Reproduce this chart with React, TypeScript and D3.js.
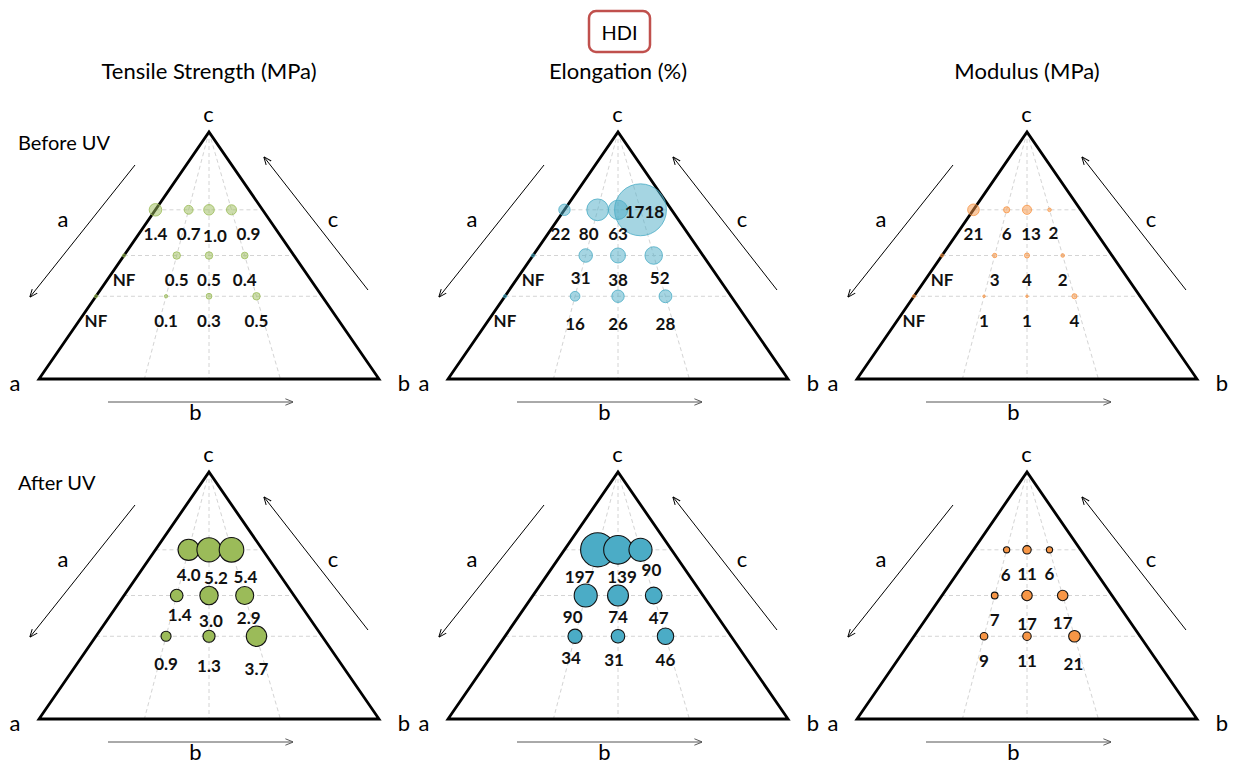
import { useEffect, useRef } from 'react';
import * as d3 from 'd3';

type Cell = number | 'NF' | null;

// composition grid: c level of each row, b/(a+b) of each column
const rowC = [0.685, 0.5, 0.335];
const colB = [0, 0.31, 0.5, 0.71];

const properties = ['Tensile Strength (MPa)', 'Elongation (%)', 'Modulus (MPa)'];
const conditions = ['Before UV', 'After UV'];

const tensileBefore: Cell[][] = [
  [1.4, 0.7, 1.0, 0.9],
  ['NF', 0.5, 0.5, 0.4],
  ['NF', 0.1, 0.3, 0.5],
];
const tensileAfter: Cell[][] = [
  [null, 4.0, 5.2, 5.4],
  [null, 1.4, 3.0, 2.9],
  [null, 0.9, 1.3, 3.7],
];
const elongBefore: Cell[][] = [
  [22, 80, 63, 1718],
  ['NF', 31, 38, 52],
  ['NF', 16, 26, 28],
];
const elongAfter: Cell[][] = [
  [null, 197, 139, 90],
  [null, 90, 74, 47],
  [null, 34, 31, 46],
];
const modulusBefore: Cell[][] = [
  [21, 6, 13, 2],
  ['NF', 3, 4, 2],
  ['NF', 1, 1, 4],
];
const modulusAfter: Cell[][] = [
  [null, 6, 11, 6],
  [null, 7, 17, 17],
  [null, 9, 11, 21],
];

const colors = ['#9bbb59', '#4bacc6', '#f79646'];

// hand placement of value labels that would collide: key panel-cond-row-col -> [dx, dy]
const labelNudge: Record<string, [number, number]> = {
  '0-0-0-2': [6, 2],
  '0-0-0-3': [17, 0],
  '1-0-0-0': [-4, 0],
  '1-0-0-1': [-9, 0],
  '1-0-0-3': [4, 0],
  '1-0-1-1': [-5, -2],
  '1-0-1-3': [6, -2],
  '1-0-2-1': [0, 3],
  '1-0-2-2': [0, 3],
  '1-0-2-3': [0, 3],
  '2-0-0-2': [4, 0],
  '2-0-0-3': [4, -1],
  '0-1-0-1': [0, 1],
  '0-1-0-2': [7, 4],
  '0-1-0-3': [14, 3],
  '0-1-1-1': [3, -5],
  '0-1-1-2': [2, 1],
  '0-1-1-3': [4, -2],
  '0-1-2-1': [0, 3],
  '0-1-2-2': [0, 5],
  '0-1-2-3': [0, 8],
  '1-1-0-1': [-18, 3],
  '1-1-0-2': [4, 3],
  '1-1-0-3': [11, -4],
  '1-1-1-1': [-13, -3],
  '1-1-1-2': [0, -3],
  '1-1-1-3': [5, -2],
  '1-1-2-1': [-4, -3],
  '1-1-2-2': [-4, -1],
  '1-1-2-3': [0, -1],
  '2-1-0-1': [-1, 1],
  '2-1-1-2': [0, 4],
  '2-1-1-3': [0, 3],
  '2-1-2-3': [-1, 3],
};

const W = 340;
const H = 247;
const panelX = [39, 448, 857];
const panelY = [132, 472];
const FONT = 'Lato, "Open Sans", sans-serif';

export default function App() {
  const svgRef = useRef<SVGSVGElement>(null);

  useEffect(() => {
    if (!svgRef.current) return;
    const svg = d3.select(svgRef.current);
    svg.selectAll('*').remove();

    const defs = svg.append('defs');
    ['#000', '#555'].forEach((c, i) => {
      defs
        .append('marker')
        .attr('id', `arrow${i}`)
        .attr('viewBox', '0 0 10 10')
        .attr('refX', 9.5)
        .attr('refY', 5)
        .attr('markerUnits', 'userSpaceOnUse')
        .attr('markerWidth', 8)
        .attr('markerHeight', 8)
        .attr('orient', 'auto')
        .append('path')
        .attr('d', 'M0,1 L10,5 L0,9')
        .attr('fill', 'none')
        .attr('stroke', c)
        .attr('stroke-width', 1.2);
    });

    // header
    svg
      .append('rect')
      .attr('x', 589)
      .attr('y', 11)
      .attr('width', 61)
      .attr('height', 41)
      .attr('rx', 7)
      .attr('fill', 'white')
      .attr('stroke', '#c0504d')
      .attr('stroke-width', 2.5);
    svg
      .append('text')
      .attr('x', 619.5)
      .attr('y', 32)
      .attr('text-anchor', 'middle')
      .attr('dominant-baseline', 'central')
      .attr('font-family', FONT)
      .attr('font-size', 20)
      .text('HDI');

    properties.forEach((p, i) => {
      svg
        .append('text')
        .attr('x', panelX[i] + W / 2)
        .attr('y', 70)
        .attr('text-anchor', 'middle')
        .attr('dominant-baseline', 'central')
        .attr('font-family', FONT)
        .attr('font-size', 22)
        .text(p);
    });

    conditions.forEach((c, j) => {
      svg
        .append('text')
        .attr('x', 18)
        .attr('y', panelY[j] + 10)
        .attr('dominant-baseline', 'central')
        .attr('font-family', FONT)
        .attr('font-size', 20)
        .text(c);
    });

    const grids = [
      [tensileBefore, tensileAfter],
      [elongBefore, elongAfter],
      [modulusBefore, modulusAfter],
    ];

    const radius = [
      d3.scaleSqrt().domain([0, 1]).range([0, 5.3]),
      d3.scaleSqrt().domain([0, 200, 2000]).range([0, 17.2, 27]),
      d3.scaleSqrt().domain([0, 1]).range([0, 1.27]),
    ];
    const fmt = [(v: number) => v.toFixed(1), (v: number) => `${v}`, (v: number) => `${v}`];

    grids.forEach((pair, i) => {
      pair.forEach((grid, j) => {
        const ox = panelX[i];
        const oy = panelY[j];
        const x = d3.scaleLinear().domain([0, 1]).range([ox, ox + W]);
        const y = d3.scaleLinear().domain([0, 1]).range([oy + H, oy]);
        // ternary -> cartesian, given c and b/(a+b)
        const px = (c: number, f: number) => x((1 - c) * f + c / 2);
        const py = (c: number) => y(c);

        const g = svg.append('g');

        // dashed guides
        colB.slice(1).forEach((f) => {
          g.append('line')
            .attr('x1', px(1, f))
            .attr('y1', py(1))
            .attr('x2', px(0, f))
            .attr('y2', py(0))
            .attr('stroke', '#d4d4d4')
            .attr('stroke-width', 1)
            .attr('stroke-dasharray', '4,3');
        });
        rowC.forEach((c) => {
          g.append('line')
            .attr('x1', px(c, 0))
            .attr('y1', py(c))
            .attr('x2', px(c, 1))
            .attr('y2', py(c))
            .attr('stroke', '#d4d4d4')
            .attr('stroke-width', 1)
            .attr('stroke-dasharray', '4,3');
        });

        // triangle
        g.append('path')
          .attr('d', `M${px(0, 0)},${py(0)}L${px(0, 1)},${py(0)}L${px(1, 0)},${py(1)}Z`)
          .attr('fill', 'none')
          .attr('stroke', '#000')
          .attr('stroke-width', 2.8)
          .attr('stroke-linejoin', 'miter');

        // corner and arrow labels (alphabetic baseline)
        const letter = (t: string, dx: number, dy: number) =>
          g.append('text')
            .attr('x', ox + dx)
            .attr('y', oy + dy)
            .attr('text-anchor', 'middle')
            .attr('font-family', FONT)
            .attr('font-size', 22)
            .text(t);
        letter('a', -24, 258.5);
        letter('b', 365, 258.5);
        letter('c', 169.5, -10);

        // direction arrows
        const arrow = (x1: number, y1: number, x2: number, y2: number, m: number, col: string) =>
          g.append('line')
            .attr('x1', ox + x1)
            .attr('y1', oy + y1)
            .attr('x2', ox + x2)
            .attr('y2', oy + y2)
            .attr('stroke', col)
            .attr('stroke-width', 1)
            .attr('marker-end', `url(#arrow${m})`);
        arrow(96, 33, -9, 165, 0, '#000');
        arrow(329, 158, 225, 25, 0, '#000');
        arrow(69, 270, 254, 270, 1, '#555');
        letter('a', 24, 94.5);
        letter('c', 294, 94.5);
        letter('b', 156.5, 288);

        // bubbles
        const before = j === 0;
        const cells: { c: number; f: number; v: Cell; key: string }[] = [];
        grid.forEach((row, ri) =>
          row.forEach((v, ci) => {
            if (v !== null) cells.push({ c: rowC[ri], f: colB[ci], v, key: `${i}-${j}-${ri}-${ci}` });
          })
        );
        const r = (d: { v: Cell }) => (d.v === 'NF' ? 1.6 : radius[i](d.v as number));

        g.selectAll('circle.bubble')
          .data(cells)
          .join('circle')
          .attr('class', 'bubble')
          .attr('cx', (d) => px(d.c, d.f))
          .attr('cy', (d) => py(d.c))
          .attr('r', r)
          .attr('fill', colors[i])
          .attr('fill-opacity', before ? 0.5 : 1)
          .attr('stroke', before ? colors[i] : '#111')
          .attr('stroke-opacity', before ? 0.8 : 1)
          .attr('stroke-width', before ? 1 : 1.1);

        g.selectAll('text.val')
          .data(cells)
          .join('text')
          .attr('class', 'val')
          .attr('x', (d) => px(d.c, d.f) + (labelNudge[d.key]?.[0] ?? 0))
          .attr('y', (d) => {
            const base = r(d) > 20 ? 2 : 24;
            return py(d.c) + base + (labelNudge[d.key]?.[1] ?? 0);
          })
          .attr('text-anchor', 'middle')
          .attr('dominant-baseline', 'central')
          .attr('font-family', FONT)
          .attr('font-weight', 700)
          .attr('font-size', 17)
          .attr('fill', '#111')
          .text((d) => (d.v === 'NF' ? 'NF' : fmt[i](d.v as number)));
      });
    });
  }, []);

  return (
    <div>
      <style>{`body{margin:0}`}</style>
      <svg ref={svgRef} width={1233} height={765} style={{ display: 'block', background: '#fff' }} />
    </div>
  );
}
